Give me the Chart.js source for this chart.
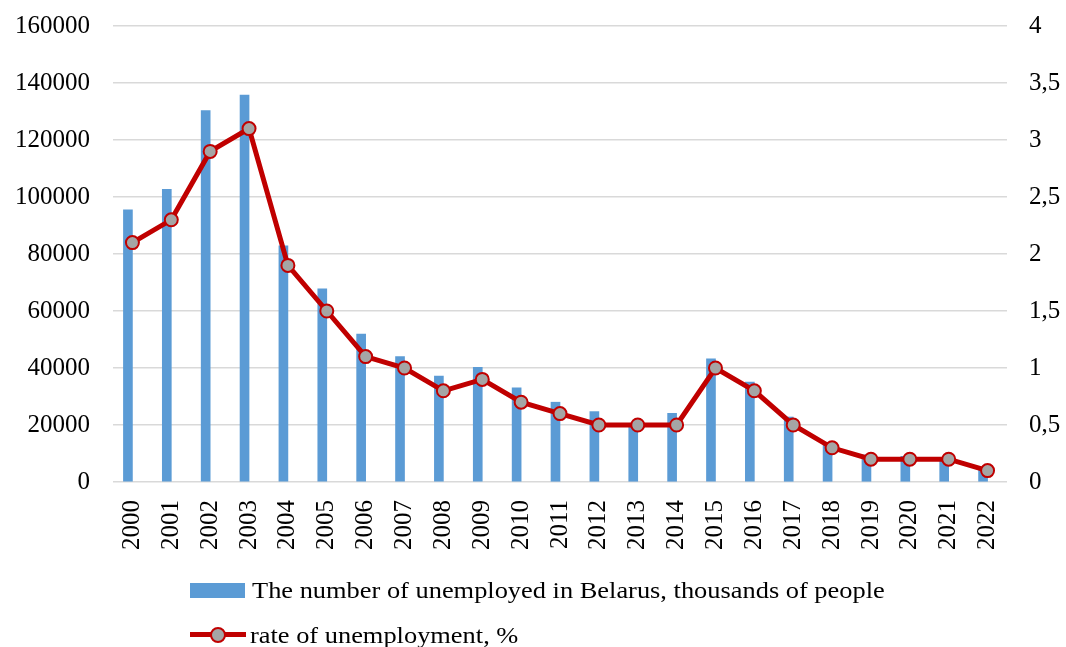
<!DOCTYPE html>
<html>
<head>
<meta charset="utf-8">
<script src="https://cdn.jsdelivr.net/npm/chart.js@4/dist/chart.umd.min.js"></script>
<style>
  html, body { margin: 0; padding: 0; background: #ffffff; }
  #wrap { position: relative; width: 1066px; height: 647px; }
  #chart { position: absolute; left: 0; top: 0; }
  .legend-row {
    position: absolute;
    left: 190px;
    height: 30px;
    display: flex;
    align-items: center;
    font-family: "Liberation Serif", "Times New Roman", serif;
    font-size: 24px;
    color: #000000;
    white-space: nowrap;
  }
  .legend-row .txt { display: inline-block; transform: scaleX(1.1); transform-origin: left center; }
  .swatch-bar { width: 55px; height: 15px; background: #5B9BD5; margin-right: 7px; }
  .swatch-line { position: relative; width: 56px; height: 30px; margin-right: 4px; }
  .swatch-line .ln { position: absolute; left: 0; top: 12px; width: 56px; height: 5px; background: #C00000; }
  .swatch-line .dot {
    position: absolute; left: 20px; top: 7px; width: 12px; height: 12px;
    border: 2px solid #C00000; border-radius: 50%; background: #A5A5A5;
  }
</style>
</head>
<body>
<div id="wrap">
  <canvas id="chart" width="1066" height="647"></canvas>
  <div class="legend-row" style="top: 575px;">
    <span class="swatch-bar"></span><span class="txt">The number of unemployed in Belarus, thousands of people</span>
  </div>
  <div class="legend-row" style="top: 620px;">
    <span class="swatch-line"><span class="ln"></span><span class="dot"></span></span><span class="txt">rate of unemployment, %</span>
  </div>
</div>
<script>
// Chart data.
var years = ['2000', '2001', '2002', '2003', '2004', '2005', '2006', '2007', '2008', '2009', '2010', '2011',
  '2012', '2013', '2014', '2015', '2016', '2017', '2018', '2019', '2020', '2021', '2022'];
var unemployedCount = [95500, 102700, 130300, 135800, 82900, 67800, 51900, 44000, 37200, 40200, 33000, 28000,
  24700, 20600, 24100, 43200, 35100, 22800, 13000, 9500, 9000, 8500, 4500];
var unemploymentRate = [2.1, 2.3, 2.9, 3.1, 1.9, 1.5, 1.1, 1.0, 0.8, 0.9, 0.7, 0.6,
  0.5, 0.5, 0.5, 1.0, 0.8, 0.5, 0.3, 0.2, 0.2, 0.2, 0.1];
var countTicks = [0, 20000, 40000, 60000, 80000, 100000, 120000, 140000, 160000];
var rateTicks = [0, 0.5, 1, 1.5, 2, 2.5, 3, 3.5, 4];

var fontFamily = '"Liberation Serif", "Times New Roman", serif';
var gridColor = '#D9D9D9';

/**
 * @description Force fixed tick values on a scale.
 *
 * @param values: number[]
 *
 * @return function
 */
function fixedTicks(values) {
  return function (scale) {
    scale.ticks = values.map(function (v) {
      return { value: v };
    });
  };
}

/**
 * @description Fix the width of a vertical axis and drop its label overhang.
 *
 * @param width: number
 *
 * @return function
 */
function fixedWidth(width) {
  return function (scale) {
    scale.width = width;
    scale.paddingTop = 0;
    scale.paddingBottom = 0;
  };
}

/**
 * @description Draw the combo chart.
 *
 * @return Chart
 */
function drawChart() {
  var ctx = document.getElementById('chart').getContext('2d');

  return new Chart(ctx, {
    type: 'bar',
    data: {
      labels: years,
      datasets: [
        {
          type: 'line',
          label: 'rate of unemployment, %',
          data: unemploymentRate,
          yAxisID: 'yRate',
          borderColor: '#C00000',
          borderWidth: 5,
          pointRadius: 6.5,
          pointBorderWidth: 2,
          pointBackgroundColor: '#A5A5A5',
          pointBorderColor: '#C00000',
          tension: 0,
          order: 0,
        },
        {
          label: 'The number of unemployed in Belarus, thousands of people',
          data: unemployedCount,
          yAxisID: 'yCount',
          backgroundColor: '#5B9BD5',
          barThickness: 9,
          order: 1,
        },
        {
          // Empty series, it only keeps the bars left of the category centre.
          label: '',
          data: years.map(function () { return null; }),
          yAxisID: 'yCount',
          backgroundColor: 'transparent',
          barThickness: 9,
          order: 2,
        },
      ],
    },
    options: {
      responsive: false,
      animation: false,
      layout: { padding: { top: 26, bottom: 79, left: 0, right: 0 } },
      plugins: {
        legend: { display: false },
        tooltip: { enabled: false },
      },
      scales: {
        x: {
          grid: { display: false, drawTicks: false },
          border: { display: false },
          ticks: {
            minRotation: 90,
            maxRotation: 90,
            padding: 18,
            color: '#000000',
            font: { family: fontFamily, size: 25 },
          },
        },
        yCount: {
          position: 'left',
          min: 0,
          max: 160000,
          afterBuildTicks: fixedTicks(countTicks),
          afterFit: fixedWidth(113),
          grid: { color: gridColor, lineWidth: 1.5, drawTicks: false },
          border: { display: false },
          ticks: {
            padding: 23,
            color: '#000000',
            font: { family: fontFamily, size: 25 },
            callback: function (value) { return String(value); },
          },
        },
        yRate: {
          position: 'right',
          min: 0,
          max: 4,
          afterBuildTicks: fixedTicks(rateTicks),
          afterFit: fixedWidth(59),
          grid: { display: false, drawTicks: false },
          border: { display: false },
          ticks: {
            padding: 22,
            color: '#000000',
            font: { family: fontFamily, size: 25 },
            callback: function (value) { return String(value).replace('.', ','); },
          },
        },
      },
    },
  });
}

drawChart();
</script>
</body>
</html>
